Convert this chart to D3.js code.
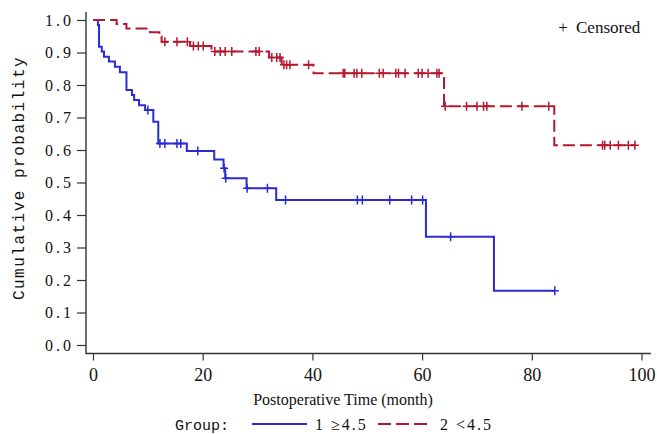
<!DOCTYPE html>
<meta charset="utf-8">
<script src="https://d3js.org/d3.v7.min.js"></script>
<style>
  body { margin: 0; background: #fff; }
</style>
<svg id="km" width="657" height="434"></svg>
<script>

// Group 1 (>=4.5): drop times (month) and survival after each drop
var g1Times = [0.9, 1.1, 1.6, 2.0, 2.9, 4.0, 4.9, 6.1, 7.1, 7.5, 8.4, 9.5, 11.0, 11.9, 17.1, 22.1, 23.8, 24.1, 28.0, 33.4, 60.7, 73.1];
var g1Surv  = [0.985, 0.918, 0.903, 0.887, 0.872, 0.856, 0.839, 0.785, 0.769, 0.754, 0.738, 0.723, 0.687, 0.620, 0.597, 0.571, 0.544, 0.513, 0.482, 0.446, 0.333, 0.167];
var g1Censor = [10.0, 12.2, 13.1, 15.3, 16.0, 19.1, 23.9, 24.2, 28.1, 31.8, 35.1, 48.2, 49.1, 54.1, 58.1, 60.1, 65.2, 84.2];
var g1End = 84.2;

// Group 2 (<4.5)
var g2Times = [4.3, 6.1, 10.4, 12.1, 12.5, 17.7, 21.6, 32.1, 34.4, 40.2, 64.0, 84.1];
var g2Surv  = [0.988, 0.974, 0.962, 0.949, 0.933, 0.920, 0.903, 0.885, 0.862, 0.836, 0.735, 0.615];
var g2Censor = [13.1, 15.3, 17.2, 18.3, 19.2, 20.1, 22.2, 23.2, 24.1, 25.3, 29.7, 30.3, 32.6, 33.5, 34.1,
  34.8, 35.3, 35.9, 39.3, 45.6, 45.9, 47.6, 48.1, 49.0, 52.2, 52.9, 55.2, 55.7, 56.9, 59.3, 60.0, 61.1,
  62.7, 63.1, 64.2, 68.1, 70.0, 71.2, 71.8, 78.2, 83.1, 92.9, 93.3, 94.3, 95.8, 97.6, 98.8];
var g2End = 98.8;

var groupLabels = ["1 \u22654.5", "2 <4.5"];
var xTicks = [0, 20, 40, 60, 80, 100];
var yTicks = [0, 0.1, 0.2, 0.3, 0.4, 0.5, 0.6, 0.7, 0.8, 0.9, 1.0];

var blue = "#2b2bd6", red = "#b5172f", ink = "#333";

var svg = d3.select("#km");

var x = d3.scaleLinear().domain([0, 100]).range([93, 641.5]);
var y = d3.scaleLinear().domain([0, 1]).range([345, 20]);

// frame
var frameLeft = 86, frameTop = 12, frameBottom = 353.5, frameRight = 651;

svg.append("path")
  .attr("d", "M" + frameLeft + "," + frameTop + "V" + frameBottom + "H" + frameRight)
  .attr("fill", "none")
  .attr("stroke", ink)
  .attr("stroke-width", 1.4);

// y axis
var gy = svg.append("g")
  .attr("transform", "translate(" + frameLeft + ",0)")
  .call(d3.axisLeft(y).tickValues(yTicks).tickFormat(d3.format(".1f")).tickSize(9).tickPadding(3).tickSizeOuter(0));
gy.select(".domain").remove();
gy.selectAll(".tick line").attr("stroke", ink).attr("stroke-width", 1.2);
gy.selectAll(".tick text")
  .attr("fill", "#111")
  .style("font-family", "'Liberation Serif', serif")
  .style("font-size", "16px")
  .style("letter-spacing", "3px");

// x axis
var gx = svg.append("g")
  .attr("transform", "translate(0," + frameBottom + ")")
  .call(d3.axisBottom(x).tickValues(xTicks).tickSize(7).tickPadding(8).tickSizeOuter(0));
gx.select(".domain").remove();
gx.selectAll(".tick line").attr("stroke", ink).attr("stroke-width", 1.2);
gx.selectAll(".tick text")
  .attr("fill", "#111")
  .style("font-family", "'Liberation Serif', serif")
  .style("font-size", "18px");

// axis titles
svg.append("text")
  .attr("transform", "translate(24,178) rotate(-90)")
  .attr("text-anchor", "middle")
  .style("font-family", "'Liberation Mono', monospace")
  .style("font-size", "16px")
  .style("letter-spacing", "1.5px")
  .attr("fill", "#111")
  .text("Cumulative probability");

svg.append("text")
  .attr("x", 343).attr("y", 405)
  .attr("text-anchor", "middle")
  .style("font-family", "'Liberation Serif', serif")
  .style("font-size", "16px")
  .attr("fill", "#111")
  .text("Postoperative Time (month)");

// curves
function stepPoints(times, surv, end) {
  var pts = [[0, 1]];
  times.forEach(function(t, i) { pts.push([t, surv[i]]); });
  pts.push([end, surv[surv.length - 1]]);
  return pts;
}
function survAt(times, surv, t) {
  var s = 1;
  times.forEach(function(tt, i) { if (tt <= t) s = surv[i]; });
  return s;
}

var line = d3.line()
  .x(function(d) { return x(d[0]); })
  .y(function(d) { return y(d[1]); })
  .curve(d3.curveStepAfter);

var groups = [
  { times: g1Times, surv: g1Surv, censor: g1Censor, end: g1End, color: blue, dash: null },
  { times: g2Times, surv: g2Surv, censor: g2Censor, end: g2End, color: red, dash: "12,5" }
];

groups.forEach(function(g) {
  svg.append("path")
    .datum(stepPoints(g.times, g.surv, g.end))
    .attr("d", line)
    .attr("fill", "none")
    .attr("stroke", g.color)
    .attr("stroke-width", 2)
    .attr("stroke-dasharray", g.dash);

  svg.append("g").selectAll("path")
    .data(g.censor)
    .enter()
    .append("path")
      .attr("d", function(t) {
        var cx = x(t), cy = y(survAt(g.times, g.surv, t));
        return "M" + (cx - 4) + "," + cy + "h8M" + cx + "," + (cy - 4.5) + "v9";
      })
      .attr("stroke", g.color)
      .attr("stroke-width", 1.5);
});

// censored note
svg.append("text")
  .attr("x", 563).attr("y", 33)
  .attr("text-anchor", "middle")
  .style("font-family", "'Liberation Serif', serif")
  .style("font-size", "17px")
  .attr("fill", "#111")
  .text("+");
svg.append("text")
  .attr("x", 576).attr("y", 33)
  .style("font-family", "'Liberation Serif', serif")
  .style("font-size", "17px")
  .attr("fill", "#111")
  .text("Censored");

// legend
var legY = 424;
svg.append("text")
  .attr("x", 175).attr("y", legY + 6)
  .style("font-family", "'Liberation Mono', monospace")
  .style("font-size", "15px")
  .attr("fill", "#111")
  .text("Group:");

var legItems = [
  { x0: 252, x1: 307, tx: 315, color: blue, dash: null, label: groupLabels[0] },
  { x0: 378, x1: 432, tx: 440, color: red, dash: "13,5", label: groupLabels[1] }
];
legItems.forEach(function(d) {
  svg.append("line")
    .attr("x1", d.x0).attr("x2", d.x1)
    .attr("y1", legY).attr("y2", legY)
    .attr("stroke", d.color)
    .attr("stroke-width", 2)
    .attr("stroke-dasharray", d.dash);
  svg.append("text")
    .attr("x", d.tx).attr("y", legY + 6)
    .style("font-family", "'Liberation Serif', serif")
    .style("font-size", "16px")
    .style("letter-spacing", "2px")
    .attr("fill", "#111")
    .text(d.label);
});

</script>
